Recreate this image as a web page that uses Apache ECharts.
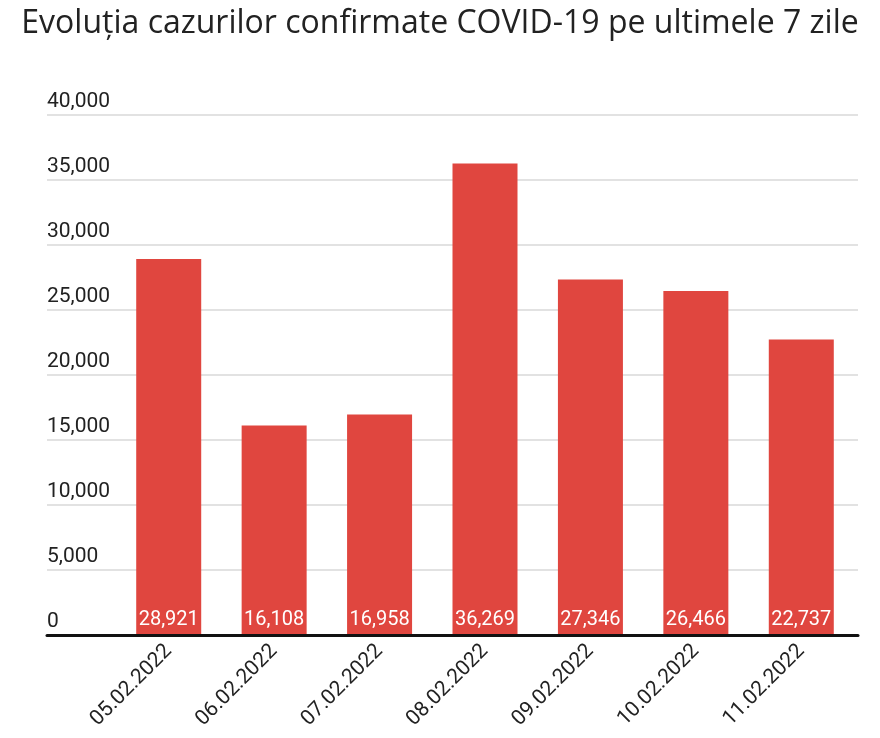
<!DOCTYPE html>
<html>
<head>
<meta charset="utf-8">
<script src="https://cdn.jsdelivr.net/npm/echarts@6/dist/echarts.min.js"></script>
<style>html,body{margin:0;padding:0;background:#fff;}#c{width:880px;height:738px;}</style>
</head>
<body>
<div id="c"></div>
<script>
const titleText = 'Evoluția cazurilor confirmate COVID-19 pe ultimele 7 zile';
const categories = ['05.02.2022','06.02.2022','07.02.2022','08.02.2022','09.02.2022','10.02.2022','11.02.2022'];
const cases = [28921, 16108, 16958, 36269, 27346, 26466, 22737];
const yMin = 0, yMax = 40000, yStep = 5000;

const chart = echarts.init(document.getElementById('c'), null, {renderer:'canvas'});
const fmt = v => v.toLocaleString('en-US');
chart.setOption({
  animation: false,
  backgroundColor: '#fff',
  textStyle: {fontFamily: 'Roboto'},
  title: {
    text: titleText, left: 'center', top: 3,
    textStyle: {fontFamily: 'Open Sans', fontSize: 32, fontWeight: 'normal', color: '#222'}
  },
  grid: [
    {left: 47, right: 22, top: 115, bottom: 103},
    {left: 116, right: 26, top: 115, bottom: 103}
  ],
  xAxis: [
    {gridIndex: 0, type: 'category', data: categories, axisLine: {show: true, lineStyle: {color: '#111', width: 3}},
     axisTick: {show: false}, axisLabel: {show: false}, splitLine: {show: false}, z: 5},
    {gridIndex: 1, type: 'category', data: categories, axisLine: {show: false}, axisTick: {show: false},
     axisLabel: {rotate: 45, fontSize: 21, color: '#222', margin: 13, fontFamily: 'Roboto'}}
  ],
  yAxis: [
    {gridIndex: 0, type: 'value', min: yMin, max: yMax, interval: yStep,
     axisLine: {show: false}, axisTick: {show: false},
     splitLine: {lineStyle: {color: '#d9d9d9', width: 1.5}},
     axisLabel: {inside: true, margin: 0, align: 'left', verticalAlign: 'bottom', padding: [0,0,3,0],
       fontSize: 21, color: '#222', fontFamily: 'Roboto', formatter: v => fmt(v)}},
    {gridIndex: 1, type: 'value', min: yMin, max: yMax, interval: yStep, show: false,
     splitLine: {show: false}}
  ],
  series: [{
    type: 'bar', xAxisIndex: 1, yAxisIndex: 1, data: cases, barWidth: 65,
    itemStyle: {color: '#e0463f'}, z: 3,
    label: {show: true, position: 'insideBottom', distance: 5, color: '#fff', fontSize: 20,
      fontFamily: 'Roboto', formatter: p => fmt(p.value)}
  }]
});
</script>
</body>
</html>
